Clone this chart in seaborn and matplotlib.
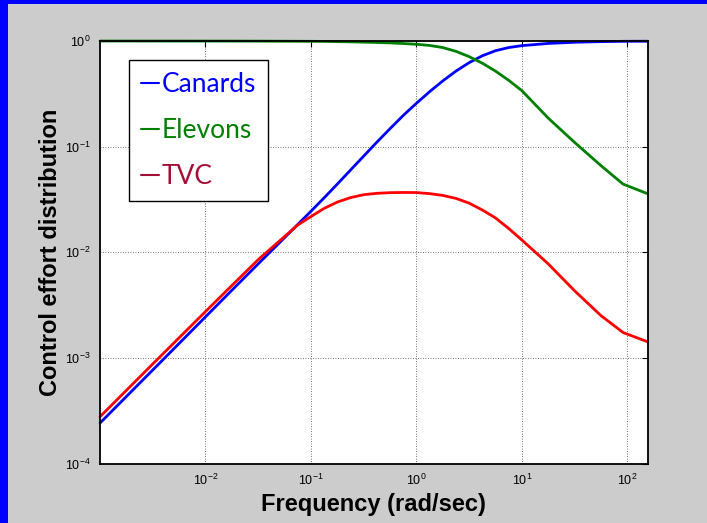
import numpy as np
import pandas as pd
import matplotlib
matplotlib.use("Agg")
import matplotlib.pyplot as plt
from matplotlib.lines import Line2D
from matplotlib.patches import Rectangle
import seaborn as sns

# ---- data (log10 of frequency and of each series) ----
log_freq = [-3, -2.5, -2, -1.75, -1.5, -1.3, -1.125, -1, -0.875, -0.75, -0.625, -0.5,
            -0.375, -0.25, -0.125, 0, 0.125, 0.25, 0.375, 0.5, 0.625, 0.75, 0.875, 1,
            1.25, 1.5, 1.75, 1.96, 2.19]
log_canards = [-3.617, -3.115, -2.612, -2.36, -2.11, -1.912, -1.737, -1.612, -1.485,
               -1.355, -1.222, -1.09, -0.958, -0.83, -0.705, -0.59, -0.48, -0.378,
               -0.285, -0.205, -0.14, -0.092, -0.062, -0.044, -0.023, -0.012, -0.006,
               -0.003, -0.002]
log_elevons = [-0.0002, -0.0003, -0.0005, -0.0008, -0.0012, -0.0018, -0.0025, -0.003,
               -0.004, -0.006, -0.008, -0.011, -0.014, -0.018, -0.024, -0.031, -0.042,
               -0.062, -0.098, -0.148, -0.21, -0.285, -0.372, -0.47, -0.73, -0.96,
               -1.18, -1.355, -1.445]
log_tvc = [-3.557, -3.058, -2.562, -2.315, -2.07, -1.895, -1.742, -1.662, -1.585,
           -1.525, -1.483, -1.455, -1.442, -1.436, -1.434, -1.435, -1.445, -1.462,
           -1.49, -1.535, -1.6, -1.675, -1.775, -1.884, -2.11, -2.365, -2.60, -2.76,
           -2.847]
series_names = ["Canards", "Elevons", "TVC"]
line_colors = ["#0000ff", "#008000", "#ff0000"]
legend_colors = ["#0000ff", "#008000", "#a50f37"]
xtick_vals = [1e-2, 1e-1, 1e0, 1e1, 1e2]
ytick_vals = [1e-4, 1e-3, 1e-2, 1e-1, 1e0]

freq = [10.0 ** v for v in log_freq]
df = pd.DataFrame({
    "freq": freq * 3,
    "value": [10.0 ** v for v in log_canards + log_elevons + log_tvc],
    "series": sum([[n] * len(freq) for n in series_names], []),
})

sns.set_style("white")
plt.rcParams["font.family"] = ["Liberation Sans", "DejaVu Sans"]
plt.rcParams["mathtext.fontset"] = "custom"
plt.rcParams["mathtext.rm"] = "Liberation Sans"
plt.rcParams["text.color"] = "black"
plt.rcParams["axes.labelcolor"] = "black"

W, H = 707, 523
fig = plt.figure(figsize=(W / 100, H / 100), dpi=100, facecolor="#cccccc")
ax = fig.add_axes([100 / W, 1 - 463.5 / H, 547.7 / W, 422.5 / H])
ax.set_facecolor("white")

sns.lineplot(data=df, x="freq", y="value", hue="series", hue_order=series_names,
             palette=line_colors, linewidth=2.0, legend=False, ax=ax, sort=False,
             estimator=None)
for ln in ax.get_lines():
    ln.set_clip_on(False)
    ln.set_solid_joinstyle("round")

ax.set_xscale("log")
ax.set_yscale("log")
ax.set_xlim(1e-3, 156)
ax.set_ylim(1e-4, 1)
ax.set_xticks(xtick_vals)
ax.set_yticks(ytick_vals)
ax.minorticks_off()
ax.tick_params(which="both", direction="in", length=4, width=0.8, top=True, right=True,
               labelsize=9, colors="black", pad=7)
ax.grid(True, which="major", color="#444444", linestyle=(0, (1, 2)), linewidth=0.6)
for s in ax.spines.values():
    s.set_visible(True)
    s.set_color("black")
    s.set_linewidth(1.3)

ax.set_xlabel("Frequency (rad/sec)", fontsize=17, fontweight="bold", labelpad=3,
              color="black")
ax.set_ylabel("Control effort distribution", fontsize=17, fontweight="bold", labelpad=1.5,
              color="black")

handles = [Line2D([], [], color=c, linewidth=1.5) for c in legend_colors]
leg = ax.legend(handles, series_names, loc="upper left",
                bbox_to_anchor=((129 - 100) / 547.7, 1 - (60 - 41) / 422.5),
                borderaxespad=0, handlelength=0.7, handletextpad=0.1,
                labelspacing=0.8, borderpad=0.45, fancybox=False, frameon=True,
                labelcolor=legend_colors,
                prop={"family": ["Lato", "DejaVu Sans"], "size": 19})
leg.get_frame().set_edgecolor("black")
leg.get_frame().set_linewidth(1.0)
leg.get_frame().set_alpha(1)

# blue frame along the left and top edges
fig.patches.append(Rectangle((0, 0), 8 / W, 1, transform=fig.transFigure,
                             facecolor="#0000ff", edgecolor="none", zorder=10))
fig.patches.append(Rectangle((0, 1 - 4 / H), 1, 4 / H, transform=fig.transFigure,
                             facecolor="#0000ff", edgecolor="none", zorder=10))

fig.savefig("out.png", dpi=100, facecolor=fig.get_facecolor())
